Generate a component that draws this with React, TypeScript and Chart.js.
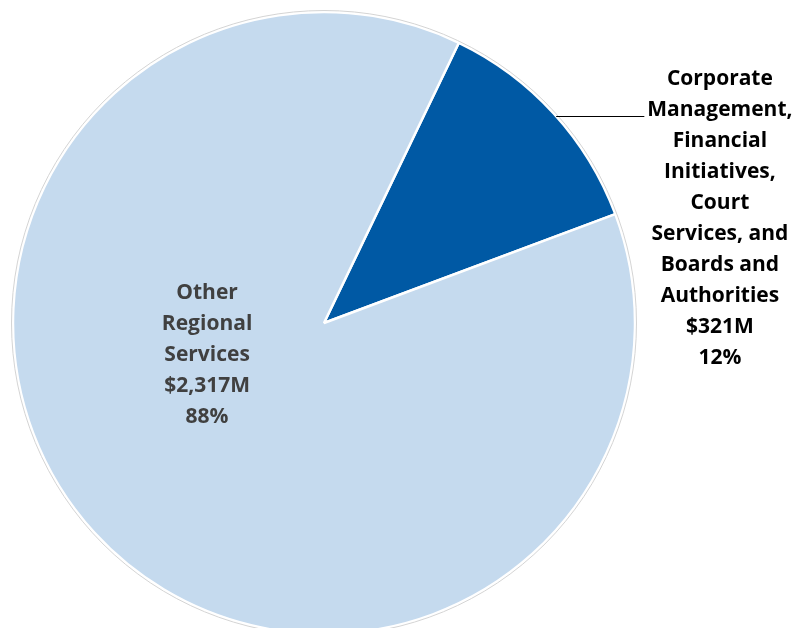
import React, { useEffect, useRef } from "react";
import { Chart, registerables } from "chart.js";

Chart.register(...registerables);

const categories = [
  "Corporate Management, Financial Initiatives, Court Services, and Boards and Authorities",
  "Other Regional Services",
];
const values = [321, 2317];
const percents = ["12%", "88%"];
const amountLabels = ["$321M", "$2,317M"];
const labelLines = [
  ["Corporate", "Management,", "Financial", "Initiatives,", "Court", "Services, and", "Boards and", "Authorities"],
  ["Other", "Regional", "Services"],
];
const colors = ["#0059A4", "#C5DAEE"];

const FONT = "bold 21px 'Open Sans', Lato, sans-serif";
const LINE_H = 31;

const labelPlugin = {
  id: "pieLabels",
  afterDatasetsDraw(chart: any) {
    const ctx = chart.ctx;
    const meta = chart.getDatasetMeta(0);
    const arcs = meta.data;
    if (!arcs.length) return;
    const a0 = arcs[0];
    const cx = a0.x;
    const cy = a0.y;
    const r = a0.outerRadius;

    // faint outer ring
    ctx.save();
    ctx.beginPath();
    ctx.arc(cx, cy, r + 1.5, 0, Math.PI * 2);
    ctx.strokeStyle = "#D4D4D4";
    ctx.lineWidth = 1;
    ctx.stroke();
    ctx.restore();

    ctx.save();
    ctx.font = FONT;
    ctx.textAlign = "center";
    ctx.textBaseline = "middle";

    // slice 0: outside label with leader line
    const mid0 = (a0.startAngle + a0.endAngle) / 2 + 0.012;
    const ex = cx + Math.cos(mid0) * r;
    const ey = Math.round(cy + Math.sin(mid0) * r);
    const lineEnd = cx + 1.03 * r;
    ctx.beginPath();
    ctx.moveTo(ex, ey + 0.5);
    ctx.lineTo(lineEnd, ey + 0.5);
    ctx.strokeStyle = "#000000";
    ctx.lineWidth = 1;
    ctx.stroke();
    const lines0 = [...labelLines[0], amountLabels[0], percents[0]];
    const tx0 = cx + 1.273 * r;
    const ty0 = ey - 37;
    ctx.fillStyle = "#000000";
    lines0.forEach((t, i) => ctx.fillText(t, tx0, ty0 + i * LINE_H));

    // slice 1: inside label
    const lines1 = [...labelLines[1], amountLabels[1], percents[1]];
    const tx1 = cx - 0.376 * r;
    const tyc = cy + 0.1 * r + 1;
    const ty1 = tyc - ((lines1.length - 1) * LINE_H) / 2;
    ctx.fillStyle = "#404040";
    lines1.forEach((t, i) => ctx.fillText(t, tx1, ty1 + i * LINE_H));
    ctx.restore();
  },
};

export default function App() {
  const ref = useRef<HTMLCanvasElement>(null);
  useEffect(() => {
    document.body.style.margin = "0";
    const chart = new Chart(ref.current!, {
      type: "pie",
      data: {
        labels: categories,
        datasets: [
          {
            data: values,
            backgroundColor: colors,
            borderColor: "#FFFFFF",
            borderWidth: 2.5,
            radius: 311,
            clip: false,
          } as any,
        ],
      },
      options: {
        responsive: false,
        animation: false,
        rotation: 25.7,
        layout: { padding: { left: 0, right: 150, top: 18, bottom: 0 } },
        plugins: {
          legend: { display: false },
          tooltip: { enabled: false },
        },
      },
      plugins: [labelPlugin],
    });
    return () => chart.destroy();
  }, []);
  return (
    <div style={{ width: 798, height: 628, background: "#fff" }}>
      <canvas ref={ref} width={798} height={628} />
    </div>
  );
}
